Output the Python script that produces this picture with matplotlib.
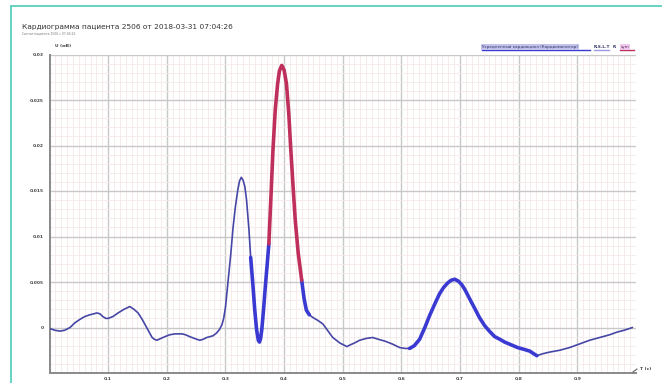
import matplotlib
matplotlib.use("Agg")
import matplotlib.pyplot as plt
from matplotlib.lines import Line2D
from matplotlib.ticker import MultipleLocator
import numpy as np

# Averaged cardiac cycle, time in seconds, amplitude in mV
t_s = [0.000, 0.009, 0.018, 0.026, 0.035, 0.043, 0.052, 0.060, 0.069, 0.075,
       0.081, 0.086, 0.091, 0.096, 0.100, 0.108, 0.117, 0.127, 0.137, 0.144,
       0.151, 0.158, 0.164, 0.170, 0.175, 0.179, 0.183, 0.190, 0.197, 0.205,
       0.214, 0.220, 0.226, 0.232, 0.239, 0.247, 0.256, 0.262, 0.268, 0.274,
       0.279, 0.285, 0.290, 0.294, 0.297, 0.300, 0.304, 0.309, 0.313, 0.317,
       0.321, 0.324, 0.327, 0.330, 0.333, 0.336, 0.340, 0.343, 0.347, 0.350,
       0.353, 0.356, 0.358, 0.360, 0.362, 0.365, 0.368, 0.371, 0.374, 0.378,
       0.381, 0.385, 0.389, 0.392, 0.396, 0.400, 0.404, 0.408, 0.411, 0.415,
       0.419, 0.424, 0.430, 0.434, 0.438, 0.443, 0.449, 0.457, 0.466, 0.474,
       0.483, 0.489, 0.495, 0.501, 0.507, 0.513, 0.520, 0.529, 0.540, 0.551,
       0.561, 0.572, 0.584, 0.597, 0.606, 0.614, 0.622, 0.631, 0.640, 0.648,
       0.657, 0.665, 0.672, 0.679, 0.685, 0.691, 0.697, 0.703, 0.708, 0.716,
       0.725, 0.733, 0.742, 0.750, 0.759, 0.768, 0.776, 0.787, 0.798, 0.809,
       0.819, 0.826, 0.831, 0.840, 0.853, 0.870, 0.887, 0.904, 0.921, 0.938,
       0.955, 0.968, 0.980, 0.994]
u_mv = [-0.0001, -0.0003, -0.0004, -0.0003, 0.0000, 0.0005, 0.0009, 0.0012, 0.0014, 0.0015,
        0.0016, 0.0015, 0.0012, 0.0010, 0.0010, 0.0012, 0.0016, 0.0020, 0.0023, 0.0020,
        0.0016, 0.0009, 0.0002, -0.0005, -0.0011, -0.0013, -0.0014, -0.0012, -0.0010, -0.0008,
        -0.0007, -0.0007, -0.0007, -0.0008, -0.0010, -0.0012, -0.0014, -0.0013, -0.0011, -0.0010,
        -0.0009, -0.0006, -0.0002, 0.0003, 0.0010, 0.0022, 0.0048, 0.0080, 0.0110, 0.0133,
        0.0151, 0.0161, 0.0165, 0.0162, 0.0155, 0.0140, 0.0108, 0.0077, 0.0045, 0.0019,
        -0.0002, -0.0014, -0.0016, -0.0012, -0.0002, 0.0020, 0.0045, 0.0068, 0.0092, 0.0150,
        0.0195, 0.0240, 0.0268, 0.0282, 0.0288, 0.0283, 0.0268, 0.0235, 0.0200, 0.0158,
        0.0118, 0.0082, 0.0052, 0.0032, 0.0019, 0.0014, 0.0011, 0.0008, 0.0004, -0.0003,
        -0.0011, -0.0014, -0.0017, -0.0019, -0.0021, -0.0019, -0.0017, -0.0014, -0.0012, -0.0011,
        -0.0013, -0.0015, -0.0018, -0.0022, -0.0023, -0.0023, -0.0020, -0.0013, 0.0000, 0.0013,
        0.0026, 0.0037, 0.0044, 0.0049, 0.0052, 0.0053, 0.0051, 0.0047, 0.0042, 0.0032,
        0.0021, 0.0011, 0.0002, -0.0004, -0.0010, -0.0013, -0.0016, -0.0019, -0.0022, -0.0024,
        -0.0026, -0.0029, -0.0031, -0.0029, -0.0027, -0.0025, -0.0022, -0.0018, -0.0014, -0.0011,
        -0.0008, -0.0005, -0.0003, 0.0000]

# Highlighted intervals of the cycle (start, end) in seconds
blue_spans = [(0.343, 0.374), (0.430, 0.443), (0.614, 0.831)]
red_spans = [(0.374, 0.430)]

x_ticks = [0.1, 0.2, 0.3, 0.4, 0.5, 0.6, 0.7, 0.8, 0.9]
y_ticks = [0, 0.005, 0.01, 0.015, 0.02, 0.025, 0.03]
y_tick_labels = ["0", "0.005", "0.01", "0.015", "0.02", "0.025", "0.03"]

title = "Кардиограмма пациента 2506 от 2018-03-31 07:04:26"
subtitle = "Сигнал пациента 2506 с 07:04:26"
legend_main = "Усредненный кардиоцикл (Кардиомонитор)"

t = np.array(t_s)
u = np.array(u_mv)

fig = plt.figure(figsize=(6.62, 3.83), dpi=100)
W, H = 662, 383
ax = fig.add_axes([49.5 / W, 1 - 373 / H, (636 - 49.5) / W, (373 - 54.5) / H])
ax.set_xlim(0, 1.0)
ax.set_ylim(-0.005, 0.03)

ax.xaxis.set_major_locator(MultipleLocator(0.1))
ax.xaxis.set_minor_locator(MultipleLocator(0.01))
ax.yaxis.set_major_locator(MultipleLocator(0.005))
ax.yaxis.set_minor_locator(MultipleLocator(0.001))
ax.grid(which="minor", color="#f5e9e9", lw=0.6)
ax.grid(which="major", color="#c8c8c8", lw=1.0)
ax.set_axisbelow(True)

for s in ("top", "right"):
    ax.spines[s].set_visible(False)
for s in ("left", "bottom"):
    ax.spines[s].set_color("#8a8a8a")
    ax.spines[s].set_linewidth(1.4)
ax.tick_params(which="both", length=0)
ax.set_xticks(x_ticks)
ax.set_xticklabels([f"{v:.1f}" for v in x_ticks], fontsize=3.2, color="#444444",
                   fontweight="bold")
ax.set_yticks(y_ticks)
ax.set_yticklabels(y_tick_labels, fontsize=3.2, color="#444444", fontweight="bold")
ax.tick_params(axis="x", pad=3)
ax.tick_params(axis="y", pad=4)

# base trace
ax.plot(t, u, color="#4646a6", lw=1.2, solid_capstyle="round", solid_joinstyle="round",
        zorder=3)

def span_mask(a, b):
    return (t >= a - 1e-9) & (t <= b + 1e-9)

for a, b in blue_spans:
    m = span_mask(a, b)
    ax.plot(t[m], u[m], color="#3a3ad2", lw=2.6, solid_capstyle="round",
            solid_joinstyle="round", zorder=4)
for a, b in red_spans:
    m = span_mask(a, b)
    ax.plot(t[m], u[m], color="#bf2f5c", lw=2.6, solid_capstyle="round",
            solid_joinstyle="round", zorder=5)

# axis labels
fig.text(55 / W, 1 - 46 / H, "U (мВ)", fontsize=3.2, color="#444444", fontweight="bold",
         ha="left", va="center")
fig.text(640 / W, 1 - 369 / H, "T (c)", fontsize=3.2, color="#444444", fontweight="bold",
         ha="left", va="center")
fig.add_artist(Line2D([633 / W, 637 / W], [1 - 372 / H, 1 - 369 / H], color="#666666",
                      lw=0.8))

# title block
fig.text(22 / W, 1 - 27 / H, title, fontsize=5.3, color="#333333", ha="left", va="center")
fig.text(22 / W, 1 - 34 / H, subtitle, fontsize=2.2, color="#777777", ha="left",
         va="center")

# legend strip
fig.text(482 / W, 1 - 47 / H, legend_main, fontsize=3.0, color="#333366", ha="left",
         va="center", bbox=dict(boxstyle="square,pad=0.15", fc="#c2c2ec", ec="none"))
fig.add_artist(Line2D([482 / W, 590 / W], [1 - 50 / H, 1 - 50 / H], color="#3a3ad2", lw=1.0))
fig.text(594 / W, 1 - 47 / H, "R.S.L.T", fontsize=3.0, color="#333366", ha="left",
         va="center", fontweight="bold")
fig.add_artist(Line2D([594 / W, 609 / W], [1 - 50 / H, 1 - 50 / H], color="#9a9ae0", lw=1.0))
fig.text(613 / W, 1 - 47 / H, "R", fontsize=3.0, color="#333366", ha="left", va="center",
         fontweight="bold")
fig.text(621 / W, 1 - 47 / H, "sym", fontsize=3.0, color="#553355", ha="left", va="center",
         bbox=dict(boxstyle="square,pad=0.15", fc="#f0c8ee", ec="none"))
fig.add_artist(Line2D([620 / W, 634 / W], [1 - 50 / H, 1 - 50 / H], color="#bf2f5c", lw=1.0))

# frame accent
fig.add_artist(Line2D([11 / W, 11 / W], [0, 1 - 6 / H], color="#5ccfbd", lw=1.3))
fig.add_artist(Line2D([11 / W, 1], [1 - 6 / H, 1 - 6 / H], color="#5ccfbd", lw=1.3))

fig.savefig("out.png", dpi=100)
